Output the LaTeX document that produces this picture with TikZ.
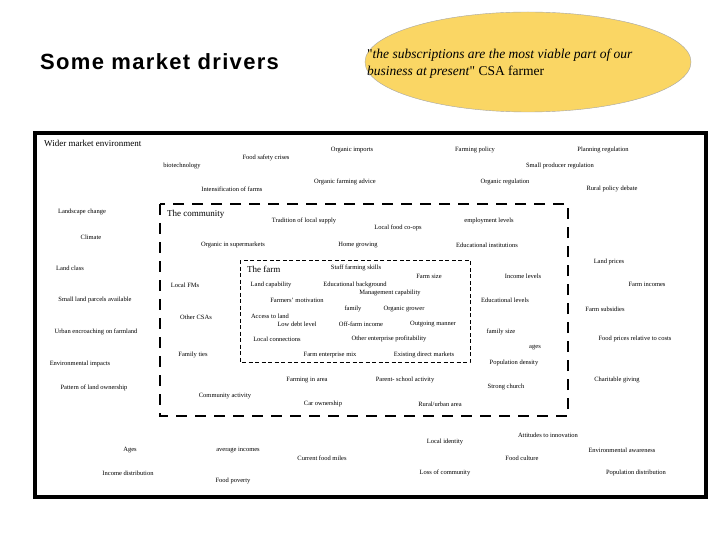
\documentclass[tikz,border=0pt]{standalone}
\usepackage{fontspec}
\setmainfont{Liberation Serif}
\setsansfont{Liberation Sans}
\usetikzlibrary{shapes.geometric}
\definecolor{qfill}{RGB}{250,214,100}
\begin{document}
\begin{tikzpicture}[x=1pt,y=-1pt,
  lab/.style={font=\fontsize{6.5}{7}\selectfont,inner sep=0pt},
  big/.style={font=\fontsize{9}{10}\selectfont,inner sep=0pt,anchor=west}]
\useasboundingbox (0,0) rectangle (720,540);
\fill[white] (0,0) rectangle (720,540);
\node[draw=gray!70,fill=qfill,ellipse,minimum width=326,minimum height=100,inner sep=0] (quote) at (528,62) {};
\node[align=left,font=\fontsize{13.5}{17}\selectfont,inner sep=0,anchor=west] (qt) at (367,64) {\textquotedbl\textit{the subscriptions are the most viable part of our}\\\textit{business at present}\textquotedbl{} CSA farmer};
\node[font=\sffamily\bfseries\fontsize{22}{24}\selectfont,inner sep=0,anchor=west] (title) at (40,62) {\addfontfeature{LetterSpace=6}Some market drivers};
\draw[line width=3.5pt] (35,133) rectangle (706,497);
\draw[line width=2.5pt,dash pattern=on 11pt off 8pt] (160,204) rectangle (568,416);
\draw[line width=0.7pt,dash pattern=on 4pt off 2.5pt] (240,260) rectangle (470,362);
\node[big] (wme) at (44,143) {Wider market environment};
\node[big] (com) at (167,214) {The community};
\node[big] (farm) at (247,269) {The farm};
\foreach \n/\x/\y/\t in {
a1/352/150/Organic imports, a2/475/150/Farming policy, a3/603/150/Planning regulation,
a4/266/158/Food safety crises, a5/182/166/biotechnology, a6/560/166/Small producer regulation,
a7/345/182/Organic farming advice, a8/505/182/Organic regulation, a9/232/189/Intensification of farms,
a10/612/189/Rural policy debate, a11/82/212/Landscape change, a12/304/221/Tradition of local supply,
a13/489/221/employment levels, a14/398/228/Local food co-ops, a15/91/237/Climate,
a16/233/245/Organic in supermarkets, a17/358/245/Home growing, a18/487/245/Educational institutions,
a19/609/262/Land prices, a20/70/268/Land class, a21/356/268/Staff farming skills,
a22/429/276/Farm size, a23/523/276/Income levels, a24/185/285/Local FMs,
a25/271/285/Land capability, a26/355/285/Educational background, a27/647/284/Farm incomes,
a28/390/293/Management capability, a29/95/300/Small land parcels available, a30/297/300/Farmers' motivation,
a31/505/300/Educational levels, a32/353/309/family, a33/404/309/Organic grower,
a34/605/309/Farm subsidies, a35/196/317/Other CSAs, a36/270/316/Access to land,
a37/297/324/Low debt level, a38/361/324/Off-farm income, a39/433/324/Outgoing manner,
a40/96/332/Urban encroaching on farmland, a41/501/332/family size, a42/277/339/Local connections,
a43/389/339/Other enterprise profitability, a44/635/339/Food prices relative to costs, a45/535/348/ages,
a46/193/355/Family ties, a47/330/355/Farm enterprise mix, a48/424/355/Existing direct markets,
a49/80/364/Environmental impacts, a50/514/363/Population density, a51/307/380/Farming in area,
a52/405/380/Parent- school activity, a53/617/380/Charitable giving, a54/94/388/Pattern of land ownership,
a55/506/387/Strong church, a56/225/396/Community activity, a57/323/404/Car ownership,
a58/440/404/{Rural/urban area}, a59/548/435/Attitudes to innovation, a60/445/442/Local identity,
a61/130/450/Ages, a62/238/450/average incomes, a63/622/450/Environmental awareness,
a64/322/458/Current food miles, a65/522/458/Food culture, a66/128/473/Income distribution,
a67/445/473/Loss of community, a68/636/473/Population distribution, a69/233/481/Food poverty}
  \node[lab] (\n) at (\x,\y) {\t};
\end{tikzpicture}
\end{document}
